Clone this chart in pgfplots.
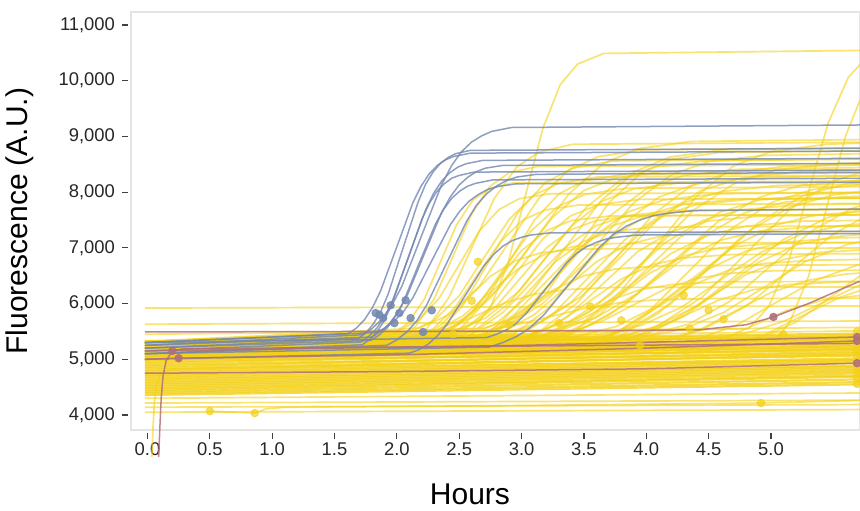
\documentclass[border=0pt]{standalone}
\usepackage{fontspec}
\setmainfont{Liberation Sans}
\usepackage{pgfplots}
\pgfplotsset{compat=1.18}
\definecolor{ylw}{RGB}{243,208,22}
\definecolor{blu}{RGB}{115,135,178}
\definecolor{mau}{RGB}{178,112,122}
\definecolor{framegray}{RGB}{228,228,228}
\pgfplotsset{
  yl/.style={draw=ylw, draw opacity=0.6, line width=0.85pt, mark=none},
  yf/.style={draw=ylw, draw opacity=0.8, line width=1.1pt, mark=none},
  bl/.style={draw=blu, draw opacity=0.8, line width=0.75pt, mark=none},
  rd/.style={draw=mau, draw opacity=0.85, line width=0.75pt, mark=none},
}
\begin{document}
\begin{tikzpicture}
\begin{axis}[
  scale only axis, width=364.5pt, height=209pt,
  xmin=-0.132, xmax=5.714, ymin=3731, ymax=11233,
  clip=false,
  axis line style={framegray, line width=0.8pt},
  xtick={0,0.5,1,1.5,2,2.5,3,3.5,4,4.5,5},
  ytick={4000,5000,6000,7000,8000,9000,10000,11000},
  xtick pos=bottom, ytick pos=left,
  tick align=outside, major tick length=3pt,
  tick style={black!75, line width=0.6pt},
  xtick style={yshift=-1.5pt}, ytick style={xshift=-1.5pt},
  scaled y ticks=false,
  ticklabel style={font=\fontsize{9.2}{11}\selectfont, text=black!85},
  /pgf/number format/assume math mode=true,
  xticklabel style={/pgf/number format/.cd, fixed, fixed zerofill, precision=1},
  yticklabel style={xshift=-1.5pt, /pgf/number format/.cd, fixed, 1000 sep={,}},
  xlabel={Hours}, ylabel={Fluorescence (A.U.)},
  xlabel style={at={(axis description cs:0.465,-0.155)}, anchor=center, font=\fontsize{15}{18}\selectfont},
  ylabel style={at={(axis description cs:-0.152,0.5)}, anchor=center, font=\fontsize{15}{18}\selectfont},
]
% flat yellow baselines
\addplot[yl] coordinates {(-0.02,5920)(6,5960)};
\addplot[yl] coordinates {(-0.02,5630)(6,5690)};
\addplot[yl] coordinates {(-0.02,5450)(6,5580)};
\addplot[yl] coordinates {(-0.02,5330)(6,5520)};
\addplot[yf] coordinates {(-0.02,5300)(6,5470)};
\addplot[yf] coordinates {(-0.02,5290)(6,5440)};
\addplot[yf] coordinates {(-0.02,5260)(6,5400)};
\addplot[yf] coordinates {(-0.02,5230)(6,5420)};
\addplot[yf] coordinates {(-0.02,5200)(6,5360)};
\addplot[yf] coordinates {(-0.02,5170)(6,5330)};
\addplot[yf] coordinates {(-0.02,5140)(6,5380)};
\addplot[yf] coordinates {(-0.02,5110)(6,5300)};
\addplot[yf] coordinates {(-0.02,5080)(6,5260)};
\addplot[yf] coordinates {(-0.02,5050)(6,5310)};
\addplot[yf] coordinates {(-0.02,5020)(6,5220)};
\addplot[yf] coordinates {(-0.02,4990)(6,5250)};
\addplot[yf] coordinates {(-0.02,4960)(6,5180)};
\addplot[yf] coordinates {(-0.02,4930)(6,5200)};
\addplot[yf] coordinates {(-0.02,4900)(6,5120)};
\addplot[yf] coordinates {(-0.02,4870)(6,5150)};
\addplot[yf] coordinates {(-0.02,4840)(6,5080)};
\addplot[yf] coordinates {(-0.02,4810)(6,5100)};
\addplot[yf] coordinates {(-0.02,4780)(6,5030)};
\addplot[yf] coordinates {(-0.02,4750)(6,5000)};
\addplot[yf] coordinates {(-0.02,4720)(6,4980)};
\addplot[yf] coordinates {(-0.02,4690)(6,4950)};
\addplot[yf] coordinates {(-0.02,4660)(6,4900)};
\addplot[yf] coordinates {(-0.02,4630)(6,4880)};
\addplot[yf] coordinates {(-0.02,4600)(6,4850)};
\addplot[yf] coordinates {(-0.02,4570)(6,4820)};
\addplot[yf] coordinates {(-0.02,4540)(6,4790)};
\addplot[yf] coordinates {(-0.02,4510)(6,4760)};
\addplot[yf] coordinates {(-0.02,4480)(6,4720)};
\addplot[yf] coordinates {(-0.02,4450)(6,4700)};
\addplot[yf] coordinates {(-0.02,4420)(6,4650)};
\addplot[yf] coordinates {(-0.02,4390)(6,4600)};
\addplot[yf] coordinates {(-0.02,4360)(6,4560)};
\addplot[yl] coordinates {(-0.02,4300)(6,4400)};
\addplot[yl] coordinates {(-0.02,4215)(6,4270)};
\addplot[yl] coordinates {(-0.02,4140)(6,4190)};
\addplot[yl] coordinates {(-0.02,4050)(6,4100)};
\addplot[yl] coordinates {(0.50,4070)(0.70,4050)(0.86,4035)(0.95,4110)(1.10,4140)(3.0,4170)(4.92,4215)(6,4280)};
\addplot[yl] coordinates {(0.035,3250)(0.045,3800)(0.055,4200)(0.07,4500)(0.10,4720)(0.15,4800)(0.3,4830)(6,5000)};
% rising yellow curves
\addplot[yl] coordinates {(-0.02,5300)(1.96,5440)(2.09,5650)(2.22,6080)(2.35,6750)(2.48,7420)(2.61,7860)(2.74,8060)(2.94,8170)(6,8200)};
\addplot[yl] coordinates {(-0.02,5200)(2.00,5360)(2.15,5590)(2.30,6090)(2.45,6850)(2.60,7610)(2.75,8110)(2.90,8350)(3.13,8460)(6,8500)};
\addplot[yl] coordinates {(-0.02,5320)(2.02,5520)(2.18,5710)(2.34,6100)(2.50,6700)(2.66,7300)(2.82,7690)(2.98,7880)(3.22,7970)(6,8000)};
\addplot[yl] coordinates {(-0.02,5100)(2.06,5280)(2.24,5550)(2.42,6120)(2.60,7000)(2.78,7880)(2.96,8450)(3.14,8720)(3.41,8860)(6,8900)};
\addplot[yl] coordinates {(-0.02,5250)(2.11,5370)(2.29,5550)(2.47,5940)(2.65,6530)(2.83,7110)(3.01,7500)(3.19,7680)(3.46,7770)(6,7800)};
\addplot[yl] coordinates {(-0.02,5300)(2.10,5490)(2.30,5700)(2.50,6140)(2.70,6830)(2.90,7510)(3.10,7950)(3.30,8160)(3.60,8270)(6,8300)};
\addplot[yl] coordinates {(-0.02,5000)(2.09,5170)(2.31,5430)(2.53,5970)(2.75,6800)(2.97,7630)(3.19,8170)(3.41,8430)(3.74,8560)(6,8600)};
\addplot[yl] coordinates {(-0.02,5200)(2.20,5310)(2.40,5490)(2.60,5850)(2.80,6400)(3.00,6950)(3.20,7310)(3.40,7490)(3.70,7570)(6,7600)};
\addplot[yl] coordinates {(-0.02,5300)(2.61,5550)(2.75,5930)(2.89,6710)(3.03,7930)(3.17,9140)(3.31,9930)(3.45,10300)(3.66,10490)(6,10550)};
\addplot[yl] coordinates {(-0.02,5100)(2.19,5240)(2.41,5460)(2.63,5910)(2.85,6600)(3.07,7290)(3.29,7740)(3.51,7960)(3.84,8070)(6,8100)};
\addplot[yl] coordinates {(-0.02,5320)(2.18,5560)(2.42,5800)(2.66,6310)(2.90,7100)(3.14,7890)(3.38,8400)(3.62,8640)(3.98,8760)(6,8800)};
\addplot[yl] coordinates {(-0.02,5150)(2.29,5280)(2.51,5480)(2.73,5890)(2.95,6530)(3.17,7160)(3.39,7570)(3.61,7770)(3.94,7870)(6,7900)};
\addplot[yl] coordinates {(-0.02,5250)(2.25,5400)(2.50,5630)(2.75,6100)(3.00,6830)(3.25,7550)(3.50,8030)(3.75,8250)(4.13,8370)(6,8400)};
\addplot[yl] coordinates {(-0.02,5000)(2.39,5110)(2.61,5290)(2.83,5650)(3.05,6200)(3.27,6750)(3.49,7110)(3.71,7290)(4.04,7370)(6,7400)};
\addplot[yl] coordinates {(-0.02,5300)(2.26,5470)(2.54,5730)(2.82,6280)(3.10,7130)(3.38,7970)(3.66,8520)(3.94,8780)(4.36,8910)(6,8950)};
\addplot[yl] coordinates {(-0.02,5200)(2.40,5340)(2.65,5560)(2.90,6010)(3.15,6700)(3.40,7390)(3.65,7840)(3.90,8060)(4.28,8170)(6,8200)};
\addplot[yl] coordinates {(-0.02,5100)(2.42,5220)(2.68,5410)(2.94,5800)(3.20,6400)(3.46,7000)(3.72,7390)(3.98,7580)(4.37,7670)(6,7700)};
\addplot[yl] coordinates {(-0.02,5300)(2.44,5500)(2.71,5740)(2.98,6220)(3.25,6980)(3.52,7730)(3.79,8210)(4.06,8450)(4.47,8560)(6,8600)};
\addplot[yl] coordinates {(-0.02,5050)(2.46,5190)(2.74,5400)(3.02,5840)(3.30,6530)(3.58,7210)(3.86,7650)(4.14,7860)(4.56,7970)(6,8000)};
\addplot[yl] coordinates {(-0.02,5250)(2.60,5350)(2.85,5490)(3.10,5800)(3.35,6280)(3.60,6750)(3.85,7060)(4.10,7200)(4.48,7280)(6,7300)};
\addplot[yl] coordinates {(-0.02,5150)(2.50,5310)(2.80,5540)(3.10,6040)(3.40,6800)(3.70,7560)(4.00,8060)(4.30,8300)(4.75,8410)(6,8450)};
\addplot[yl] coordinates {(-0.02,5300)(2.61,5420)(2.89,5610)(3.17,6000)(3.45,6600)(3.73,7200)(4.01,7590)(4.29,7780)(4.71,7870)(6,7900)};
\addplot[yl] coordinates {(-0.02,5000)(2.60,5160)(2.90,5390)(3.20,5890)(3.50,6650)(3.80,7410)(4.10,7910)(4.40,8150)(4.85,8260)(6,8300)};
\addplot[yl] coordinates {(-0.02,5200)(2.80,5280)(3.05,5400)(3.30,5660)(3.55,6050)(3.80,6440)(4.05,6700)(4.30,6820)(4.68,6880)(6,6900)};
\addplot[yl] coordinates {(-0.02,5320)(2.70,5560)(3.00,5790)(3.30,6290)(3.60,7050)(3.90,7810)(4.20,8310)(4.50,8550)(4.95,8660)(6,8700)};
\addplot[yl] coordinates {(-0.02,5100)(2.81,5220)(3.09,5400)(3.37,5770)(3.65,6350)(3.93,6930)(4.21,7300)(4.49,7480)(4.91,7570)(6,7600)};
\addplot[yl] coordinates {(-0.02,5250)(2.80,5390)(3.10,5600)(3.40,6030)(3.70,6700)(4.00,7370)(4.30,7810)(4.60,8010)(5.05,8120)(6,8150)};
\addplot[yl] coordinates {(-0.02,5050)(2.91,5150)(3.19,5290)(3.47,5600)(3.75,6080)(4.03,6550)(4.31,6860)(4.59,7000)(5.01,7080)(6,7100)};
\addplot[yl] coordinates {(-0.02,5300)(2.84,5450)(3.16,5670)(3.48,6130)(3.80,6850)(4.12,7570)(4.44,8030)(4.76,8250)(5.24,8370)(6,8400)};
\addplot[yl] coordinates {(-0.02,5150)(2.95,5280)(3.25,5470)(3.55,5860)(3.85,6480)(4.15,7090)(4.45,7490)(4.75,7680)(5.20,7770)(6,7800)};
\addplot[yl] coordinates {(-0.02,5300)(3.15,5410)(3.40,5500)(3.65,5690)(3.90,5980)(4.15,6260)(4.40,6450)(4.65,6540)(5.03,6590)(6,6600)};
\addplot[yl] coordinates {(-0.02,5000)(2.99,5140)(3.31,5360)(3.63,5810)(3.95,6500)(4.27,7190)(4.59,7640)(4.91,7860)(5.39,7970)(6,8000)};
\addplot[yl] coordinates {(-0.02,5200)(3.10,5300)(3.40,5460)(3.70,5790)(4.00,6300)(4.30,6810)(4.60,7140)(4.90,7300)(5.35,7380)(6,7400)};
\addplot[yl] coordinates {(-0.02,5300)(3.06,5450)(3.39,5690)(3.72,6170)(4.05,6930)(4.38,7680)(4.71,8160)(5.04,8400)(5.54,8510)(6,8550)};
\addplot[yl] coordinates {(-0.02,5100)(3.26,5180)(3.54,5300)(3.82,5560)(4.10,5950)(4.38,6340)(4.66,6600)(4.94,6720)(5.36,6780)(6,6800)};
\addplot[yl] coordinates {(-0.02,5250)(3.19,5380)(3.51,5570)(3.83,5980)(4.15,6600)(4.47,7220)(4.79,7630)(5.11,7820)(5.59,7920)(6,7950)};
\addplot[yl] coordinates {(-0.02,5050)(3.30,5150)(3.60,5310)(3.90,5630)(4.20,6130)(4.50,6620)(4.80,6940)(5.10,7100)(5.55,7180)(6,7200)};
\addplot[yl] coordinates {(-0.02,5320)(3.26,5530)(3.59,5740)(3.92,6170)(4.25,6830)(4.58,7480)(4.91,7910)(5.24,8120)(5.74,8220)(6,8250)};
\addplot[yl] coordinates {(-0.02,5150)(3.46,5210)(3.74,5300)(4.02,5490)(4.30,5780)(4.58,6060)(4.86,6250)(5.14,6340)(5.56,6390)(6,6400)};
\addplot[yl] coordinates {(-0.02,5300)(3.44,5410)(3.76,5590)(4.08,5950)(4.40,6500)(4.72,7050)(5.04,7410)(5.36,7590)(5.84,7670)(6.5,7700)};
\addplot[yl] coordinates {(-0.02,5000)(3.40,5150)(3.75,5370)(4.10,5830)(4.45,6550)(4.80,7270)(5.15,7730)(5.50,7950)(6.0,8070)};
\addplot[yl] coordinates {(-0.02,5200)(3.60,5290)(3.90,5410)(4.20,5680)(4.50,6100)(4.80,6520)(5.10,6790)(5.40,6920)(5.85,6980)};
\addplot[yl] coordinates {(-0.02,5300)(3.64,5450)(3.96,5610)(4.28,5930)(4.60,6430)(4.92,6920)(5.24,7240)(5.56,7400)(6.0,7480)};
\addplot[yl] coordinates {(-0.02,5100)(3.80,5170)(4.10,5280)(4.40,5500)(4.70,5850)(5.00,6200)(5.30,6420)(5.60,6530)(6.0,6590)};
\addplot[yl] coordinates {(-0.02,5250)(3.70,5370)(4.05,5560)(4.40,5950)(4.75,6550)(5.10,7150)(5.45,7540)(5.80,7730)};
\addplot[yl] coordinates {(-0.02,5000)(4.01,5060)(4.29,5140)(4.57,5320)(4.85,5600)(5.13,5880)(5.41,6060)(5.69,6140)(6.1,6190)};
\addplot[yl] coordinates {(-0.02,5300)(3.96,5390)(4.29,5540)(4.62,5840)(4.95,6300)(5.28,6760)(5.61,7060)(5.94,7210)};
\addplot[yl] coordinates {(-0.02,5150)(4.09,5230)(4.41,5360)(4.73,5620)(5.05,6030)(5.37,6430)(5.69,6690)(6.01,6820)};
\addplot[yl] coordinates {(-0.02,5200)(4.10,5330)(4.45,5530)(4.80,5950)(5.15,6600)(5.50,7250)(5.85,7670)};
\addplot[yl] coordinates {(-0.02,5050)(4.35,5120)(4.65,5220)(4.95,5440)(5.25,5780)(5.55,6110)(5.85,6330)};
\addplot[yl] coordinates {(-0.02,5300)(4.82,5550)(4.98,5940)(5.14,6750)(5.30,8000)(5.46,9250)(5.62,10060)(5.78,10450)};
\addplot[yl] coordinates {(-0.02,5000)(5.00,5260)(5.15,5660)(5.30,6480)(5.45,7750)(5.60,9020)(5.75,9850)};
\addplot[yl] coordinates {(-0.02,5320)(2.30,5430)(2.60,5480)(2.90,5590)(3.20,5750)(3.50,5910)(3.80,6020)(4.10,6070)(4.55,6090)(6,6100)};
\addplot[yl] coordinates {(-0.02,5200)(1.85,5250)(2.10,5330)(2.35,5500)(2.60,5750)(2.85,6000)(3.10,6170)(3.35,6250)(3.73,6290)(6,6300)};
\addplot[yl] coordinates {(-0.02,5100)(1.95,5190)(2.15,5330)(2.35,5610)(2.55,6050)(2.75,6490)(2.95,6770)(3.15,6910)(3.45,6980)(6,7000)};
\addplot[yl] coordinates {(-0.02,5300)(2.40,5460)(2.60,5620)(2.80,5960)(3.00,6480)(3.20,7000)(3.40,7330)(3.60,7490)(3.90,7580)(6,7600)};
\addplot[yl] coordinates {(-0.02,5250)(2.70,5420)(2.95,5670)(3.20,6190)(3.45,7000)(3.70,7810)(3.95,8330)(4.20,8590)(4.58,8710)(6,8750)};
\addplot[yl] coordinates {(-0.02,5150)(3.50,5300)(3.85,5530)(4.20,6000)(4.55,6730)(4.90,7450)(5.25,7930)(5.60,8150)(6.1,8270)};
\addplot[yl] coordinates {(-0.02,5300)(4.50,5370)(4.80,5470)(5.10,5680)(5.40,6000)(5.70,6320)(6.00,6530)};
\addplot[yl] coordinates {(-0.02,5100)(4.60,5200)(4.90,5350)(5.20,5670)(5.50,6150)(5.80,6640)};
\addplot[yl] coordinates {(-0.02,5200)(2.51,5370)(2.79,5630)(3.07,6170)(3.35,7000)(3.63,7830)(3.91,8370)(4.19,8630)(4.61,8760)(6,8800)};
\addplot[yl] coordinates {(-0.02,5100)(2.85,5260)(3.15,5510)(3.45,6020)(3.75,6800)(4.05,7590)(4.35,8100)(4.65,8340)(5.10,8460)(6,8500)};
\addplot[yl] coordinates {(-0.02,5250)(3.20,5420)(3.50,5680)(3.80,6230)(4.10,7080)(4.40,7920)(4.70,8470)(5.00,8730)(5.45,8860)(6,8900)};
\addplot[yl] coordinates {(-0.02,5150)(2.35,5270)(2.60,5450)(2.85,5840)(3.10,6430)(3.35,7010)(3.60,7400)(3.85,7580)(4.23,7670)(6,7700)};
\addplot[yl] coordinates {(-0.02,5000)(3.36,5150)(3.69,5380)(4.02,5860)(4.35,6600)(4.68,7340)(5.01,7820)(5.34,8050)(5.84,8160)};
\addplot[yl] coordinates {(-0.02,5300)(2.09,5390)(2.31,5510)(2.53,5780)(2.75,6200)(2.97,6620)(3.19,6890)(3.41,7020)(3.74,7080)(6,7100)};
\addplot[yl] coordinates {(-0.02,5200)(3.75,5360)(4.10,5610)(4.45,6120)(4.80,6900)(5.15,7690)(5.50,8200)(5.85,8440)};
\addplot[yl] coordinates {(-0.02,5100)(2.71,5230)(2.99,5430)(3.27,5850)(3.55,6500)(3.83,7150)(4.11,7570)(4.39,7770)(4.81,7870)(6,7900)};
\addplot[yl] coordinates {(-0.02,5250)(3.00,5360)(3.30,5520)(3.60,5860)(3.90,6380)(4.20,6900)(4.50,7230)(4.80,7390)(5.25,7480)(6,7500)};
\addplot[yl] coordinates {(-0.02,5000)(2.25,5080)(2.50,5200)(2.75,5460)(3.00,5850)(3.25,6240)(3.50,6500)(3.75,6620)(4.13,6680)(6,6700)};
\addplot[yl] coordinates {(-0.02,5150)(2.30,5300)(2.50,5530)(2.70,6010)(2.90,6750)(3.10,7490)(3.30,7970)(3.50,8200)(3.80,8310)(6,8350)};
\addplot[yl] coordinates {(-0.02,5200)(3.70,5300)(4.00,5450)(4.30,5770)(4.60,6250)(4.90,6740)(5.20,7050)(5.50,7200)(5.95,7280)};
\addplot[yl] coordinates {(-0.02,5300)(4.01,5430)(4.34,5630)(4.67,6040)(5.00,6680)(5.33,7310)(5.66,7720)(5.99,7920)};
\addplot[yl] coordinates {(-0.02,5100)(2.70,5160)(2.95,5260)(3.20,5450)(3.45,5750)(3.70,6050)(3.95,6250)(4.20,6340)(4.58,6390)(6,6400)};
% blue curves
\addplot[bl] coordinates {(-0.02,5250)(1.72,5440)(1.80,5550)(1.88,5720)(1.96,5970)(2.04,6310)(2.20,7230)(2.36,8140)(2.44,8480)(2.52,8730)(2.60,8900)(2.68,9010)(2.76,9090)(2.92,9160)(6,9210)};
\addplot[bl] coordinates {(-0.02,5200)(1.69,5370)(1.75,5470)(1.81,5630)(1.87,5850)(1.93,6170)(2.05,7000)(2.17,7820)(2.23,8140)(2.29,8360)(2.35,8520)(2.41,8620)(2.47,8690)(2.59,8750)(6,8790)};
\addplot[bl] coordinates {(-0.02,5300)(1.61,5460)(1.675,5560)(1.74,5710)(1.805,5930)(1.87,6230)(2.00,7020)(2.13,7820)(2.195,8110)(2.26,8330)(2.325,8480)(2.39,8580)(2.455,8640)(2.59,8700)(6,8740)};
\addplot[bl] coordinates {(-0.02,5150)(1.71,5310)(1.775,5410)(1.84,5560)(1.905,5780)(1.97,6080)(2.10,6880)(2.23,7680)(2.295,7980)(2.36,8200)(2.425,8350)(2.49,8450)(2.555,8510)(2.69,8570)(6,8610)};
\addplot[bl] coordinates {(-0.02,5250)(1.80,5400)(1.87,5500)(1.94,5640)(2.01,5850)(2.08,6130)(2.22,6890)(2.36,7640)(2.43,7920)(2.50,8130)(2.57,8270)(2.64,8370)(2.71,8430)(2.85,8480)(6,8520)};
\addplot[bl] coordinates {(-0.02,5100)(1.72,5260)(1.78,5350)(1.84,5490)(1.90,5700)(1.96,5990)(2.08,6750)(2.20,7510)(2.26,7800)(2.32,8010)(2.38,8150)(2.44,8250)(2.50,8300)(2.62,8360)(6,8400)};
\addplot[bl] coordinates {(-0.02,5200)(1.79,5340)(1.855,5430)(1.92,5560)(1.985,5760)(2.05,6020)(2.18,6730)(2.31,7430)(2.375,7690)(2.44,7890)(2.505,8020)(2.57,8110)(2.635,8160)(2.77,8220)(6,8250)};
\addplot[bl] coordinates {(-0.02,5300)(1.83,5480)(1.905,5560)(1.98,5690)(2.055,5860)(2.13,6110)(2.28,6770)(2.43,7420)(2.505,7660)(2.58,7840)(2.655,7960)(2.73,8050)(2.805,8100)(2.96,8150)(6,8180)};
\addplot[bl] coordinates {(-0.02,5100)(1.92,5250)(2.00,5350)(2.08,5490)(2.16,5690)(2.24,5980)(2.40,6730)(2.56,7480)(2.64,7770)(2.72,7970)(2.80,8110)(2.88,8210)(2.96,8270)(3.12,8320)(6,8360)};
\addplot[bl] coordinates {(-0.02,5000)(2.10,5110)(2.175,5170)(2.25,5270)(2.325,5420)(2.40,5620)(2.55,6150)(2.70,6680)(2.775,6880)(2.85,7030)(2.925,7130)(3.00,7190)(3.075,7230)(3.23,7270)(6,7300)};
\addplot[bl] coordinates {(-0.02,5300)(2.72,5390)(2.80,5450)(2.88,5530)(2.96,5650)(3.04,5830)(3.20,6280)(3.36,6730)(3.44,6900)(3.52,7020)(3.60,7100)(3.68,7160)(3.76,7190)(3.92,7230)(6,7260)};
\addplot[bl] coordinates {(-0.02,5100)(2.74,5220)(2.85,5300)(2.96,5410)(3.07,5570)(3.18,5800)(3.40,6400)(3.62,7000)(3.73,7230)(3.84,7390)(3.95,7500)(4.06,7580)(4.17,7620)(4.39,7670)(6,7700)};
% mauve curves
\addplot[rd] coordinates {(0.09,3250)(0.10,3800)(0.11,4300)(0.125,4700)(0.15,4980)(0.20,5150)(0.30,5190)(6,5290)};
\addplot[rd] coordinates {(-0.02,5000)(0.25,5020)(2.0,5080)(4.0,5200)(5.69,5330)};
\addplot[rd] coordinates {(-0.02,5490)(3.5,5510)(4.43,5530)(4.8,5620)(5.02,5760)(5.3,6000)(5.71,6400)};
\addplot[rd] coordinates {(-0.02,4750)(2.0,4780)(4.0,4830)(5.69,4930)};
\addplot[rd] coordinates {(-0.02,5150)(3.0,5250)(5.69,5400)};
% dots
\addplot[only marks, mark=*, mark size=1.9pt, color=ylw, opacity=0.7] coordinates {
  (0.50,4070)(0.86,4035)(4.92,4215)(2.65,6750)(2.90,5620)(3.30,5650)(3.80,5700)
  (4.50,5880)(4.62,5720)(3.10,5420)(4.35,5550)(2.60,6050)(5.10,5450)(4.30,6150)
  (3.55,5950)(2.45,5450)(3.95,5250)
  (5.69,4560)(5.69,4660)(5.69,4760)(5.69,4860)(5.69,4960)(5.69,5060)(5.69,5160)(5.69,5260)(5.69,5500)};
\addplot[only marks, mark=*, mark size=1.9pt, color=blu, opacity=0.85] coordinates {
  (1.83,5830)(1.89,5740)(1.95,5970)(1.98,5650)(2.02,5830)(2.07,6060)(2.11,5740)(2.21,5490)(2.28,5880)(1.86,5800)};
\addplot[only marks, mark=*, mark size=1.9pt, color=mau, opacity=0.9] coordinates {
  (0.20,5150)(0.25,5020)(5.02,5760)(5.69,5400)(5.69,5330)(5.69,4930)};
\end{axis}
\pgfresetboundingbox
\useasboundingbox (current axis.south west) ++(-65.5pt,-40pt) rectangle ++(430pt,255pt);
\end{tikzpicture}
\end{document}
